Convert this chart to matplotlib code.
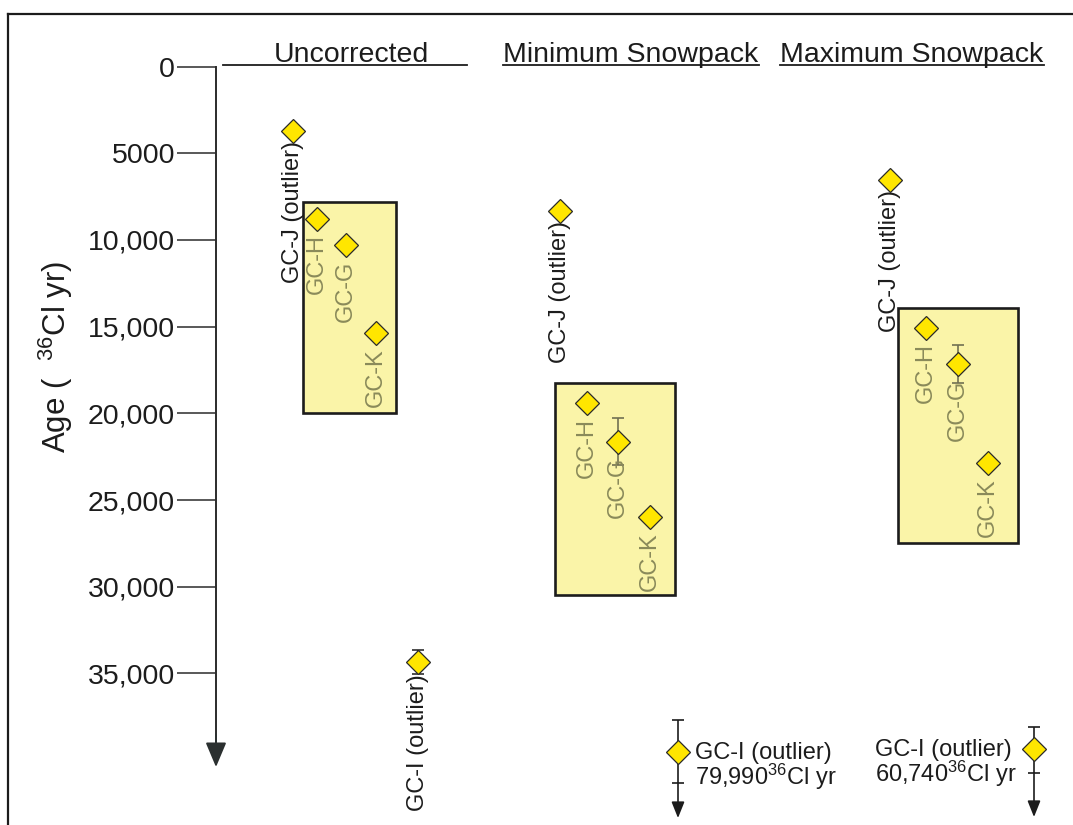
import matplotlib.pyplot as plt
import matplotlib.transforms as mtransforms
from matplotlib.lines import Line2D
from matplotlib.patches import Rectangle

plt.rcParams['font.family'] = ['Liberation Sans', 'DejaVu Sans']
plt.rcParams['mathtext.fontset'] = 'custom'
plt.rcParams['mathtext.rm'] = 'Liberation Sans'
plt.rcParams['mathtext.it'] = 'Liberation Sans:italic'

# panels and samples
PANELS = ['Uncorrected', 'Minimum Snowpack', 'Maximum Snowpack']
SAMPLES = ['GC-J', 'GC-H', 'GC-G', 'GC-K', 'GC-I']

# ages in 36Cl yr, order = SAMPLES
ages_uncorrected = [3720, 8800, 10300, 15370, 34340]
ages_min_snow = [8340, 19400, 21640, 25960, 79990]
ages_max_snow = [6550, 15080, 17160, 22850, 60740]
err_gc_g = [300, 1350, 1100]
err_gc_i_uncorrected = 700

# age range spanned by the yellow boxes
box_uncorrected = (7820, 19980)
box_min_snow = (18250, 30480)
box_max_snow = (13930, 27480)

y_ticks = [0, 5000, 10000, 15000, 20000, 25000, 30000, 35000]
y_tick_labels = ['0', '5000', '10,000', '15,000', '20,000', '25,000', '30,000', '35,000']

# off scale GC-I values are drawn at the bottom with an arrow
offscale_age = [39510, 39360]
offscale_err = [(1820, 1810), (1270, 1380)]
offscale_arrow_tip = [43340, 43280]

# layout (x in pixels)
X_SLOTS = [[293, 317, 346, 376, 418], [560, 587, 618, 650, 678], [890, 926, 958, 988, 1034]]
BOX_X = [(303, 396), (555, 675), (898, 1018)]
AXIS_X = 216

YELLOW = '#ffe600'
BOX_FILL = '#faf4a8'
OLIVE = '#8a8a5a'
INK = '#1c1c1c'
FS = 20.5
FS_SMALL = 17

all_ages = [ages_uncorrected, ages_min_snow, ages_max_snow]
boxes = [box_uncorrected, box_min_snow, box_max_snow]

fig = plt.figure(figsize=(10.73, 8.25), dpi=100)
ax = fig.add_axes([0, 0, 1, 1])
ax.patch.set_visible(False)
ax.set_xlim(0, 1073)
ax.set_ylim(43740, -3835)

for s in ['top', 'right', 'bottom']:
    ax.spines[s].set_visible(False)
ax.spines['left'].set_position(('data', AXIS_X))
ax.spines['left'].set_bounds(0, 39000)
ax.spines['left'].set_linewidth(1.4)
ax.spines['left'].set_color('#2b2b2b')
ax.set_xticks([])
ax.set_yticks(y_ticks, y_tick_labels)
ax.tick_params(axis='y', direction='out', length=28, width=1.1, pad=1.5,
               labelsize=FS, colors='#2b2b2b', labelcolor=INK)

# arrow head at the end of the age axis
ax.annotate('', xy=(AXIS_X, 40400), xytext=(AXIS_X, 38500),
            arrowprops=dict(arrowstyle='-|>,head_length=0.95,head_width=0.4',
                            mutation_scale=16, color='#2b3030', lw=1.4,
                            shrinkA=0, shrinkB=0))

# axis title
fig.text(56 / 1073, 1 - 357 / 825, r'Age (  $^{\mathregular{36}}$Cl yr)', rotation=90,
         ha='center', va='center', fontsize=22.5, color=INK)

# frame
fig.add_artist(Line2D([8 / 1073, 1.0], [1 - 13.5 / 825] * 2, lw=1.6, color=INK))
fig.add_artist(Line2D([8 / 1073] * 2, [0, 1 - 13.5 / 825], lw=1.6, color=INK))

# panel headers
hdr = mtransforms.blended_transform_factory(ax.transData, ax.transAxes)
header_x = [351, 631, 912]
header_texts = []
for name, hx in zip(PANELS, header_x):
    t = ax.text(hx, 1 - 62 / 825, name, transform=hdr, ha='center', va='baseline',
                fontsize=FS, color=INK)
    header_texts.append(t)
ax.plot([223, 467], [1 - 65 / 825] * 2, transform=hdr, color=INK, lw=1.3)
renderer = fig.canvas.get_renderer()
for t in header_texts[1:]:
    bb = t.get_window_extent(renderer)
    fig.add_artist(Line2D([bb.x0 / fig.bbox.width, bb.x1 / fig.bbox.width],
                          [1 - 65 / 825] * 2, lw=1.3, color=INK))


def diamond(x, y):
    ax.plot(x, y, marker='D', ms=12, mfc=YELLOW, mec='#2a2a2a', mew=0.9,
            ls='none', zorder=5)


def vlabel(x, y, text, color, gap):
    ax.annotate(text, (x, y), xytext=(0, -gap), textcoords='offset points',
                rotation=90, ha='center', va='top', fontsize=FS_SMALL, color=color,
                zorder=4)


for p in range(3):
    ages = all_ages[p]
    xs = X_SLOTS[p]
    top, bottom = boxes[p]
    x0, x1 = BOX_X[p]
    ax.add_patch(Rectangle((x0, top), x1 - x0, bottom - top, facecolor=BOX_FILL,
                           edgecolor=INK, lw=1.9, zorder=1))

    # GC-J outlier
    diamond(xs[0], ages[0])
    vlabel(xs[0], ages[0], 'GC-J (outlier)', INK, 7)

    # samples in the box
    ax.errorbar(xs[2], ages[2], yerr=err_gc_g[p], fmt='none', ecolor='#707052',
                elinewidth=1.2, capsize=4, capthick=1.2, zorder=3)
    for i in (1, 2, 3):
        diamond(xs[i], ages[i])
        vlabel(xs[i], ages[i], SAMPLES[i], OLIVE, 11)

    # GC-I outlier
    if p == 0:
        ax.errorbar(xs[4], ages[4], yerr=err_gc_i_uncorrected, fmt='none', ecolor=INK,
                    elinewidth=1.1, capsize=4, capthick=1.1, zorder=3)
        diamond(xs[4], ages[4])
        vlabel(xs[4], ages[4], 'GC-I (outlier)', INK, 9)
    else:
        ya = offscale_age[p - 1]
        lo, hi = offscale_err[p - 1]
        ax.errorbar(xs[4], ya, yerr=[[lo], [hi]], fmt='none', ecolor=INK,
                    elinewidth=1.2, capsize=4, capthick=1.2, zorder=3)
        ax.annotate('', xy=(xs[4], offscale_arrow_tip[p - 1]), xytext=(xs[4], ya + hi),
                    arrowprops=dict(arrowstyle='-|>,head_length=0.7,head_width=0.28',
                                    mutation_scale=14, color=INK, lw=1.2,
                                    shrinkA=0, shrinkB=0))
        diamond(xs[4], ya)
        txt = 'GC-I (outlier)\n' + f'{ages[4]:,}' + r'$^{\mathregular{36}}$Cl yr'
        if p == 1:
            ax.annotate(txt, (xs[4], ya), xytext=(12.5, -11), textcoords='offset points',
                        ha='left', va='center', fontsize=FS_SMALL, color=INK,
                        linespacing=0.9)
        else:
            ax.annotate(txt, (xs[4], ya), xytext=(-12.2, -11), textcoords='offset points',
                        ha='right', va='center', multialignment='left',
                        fontsize=FS_SMALL, color=INK, linespacing=0.9)

fig.savefig('out.png', dpi=100)
